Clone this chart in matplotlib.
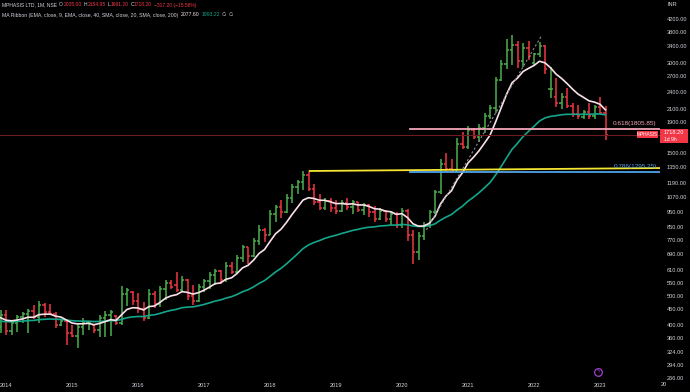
import matplotlib
matplotlib.use("Agg")
import matplotlib.pyplot as plt
import numpy as np
import pandas as pd
from matplotlib.patches import Rectangle

# ---------------- data (monthly OHLC, Dec 2013 .. Feb 2023) ----------------
dates = pd.date_range("2013-12-01", "2023-02-01", freq="MS")

opens = [392, 432, 382, 404, 424, 434, 445, 424, 466, 440, 436, 400, 412, 376, 368, 392, 405, 399, 383, 420, 432,
         428, 405, 505, 515, 480, 452, 420, 508, 470, 528, 552, 545, 522, 565, 500, 480, 535, 560, 585, 605,
         565, 630, 600, 670, 725, 680, 760, 830, 800, 940, 990, 950, 1060, 1150, 1200, 1270, 1140, 1030, 985,
         1040, 980, 960, 1020, 990, 1025, 970, 1005, 950, 905, 960, 900, 935, 860, 960, 800, 700, 790, 860,
         950, 1110, 1380, 1330, 1300, 1600, 1570, 1790, 1700, 1820, 1990, 2120, 2620, 2980, 3300, 3450, 3050,
         3350, 3000, 3200, 3420, 2450, 2300, 2200, 2300, 2150, 2020, 1980, 2060, 1995, 2130, 2035]
highs = [448, 448, 411, 431, 440, 453, 466, 480, 472, 469, 440, 418, 415, 400, 403, 422, 411, 402, 431, 445, 448,
         431, 540, 531, 519, 510, 477, 525, 519, 537, 564, 564, 598, 584, 570, 541, 549, 570, 598, 616, 610,
         650, 650, 685, 740, 730, 780, 860, 845, 969, 1007, 1047, 1090, 1180, 1222, 1305, 1290, 1180, 1090,
         1063, 1063, 1047, 1047, 1063, 1047, 1031, 1023, 1015, 1000, 985, 969, 955, 955, 985, 975, 830, 818,
         883, 969, 1131, 1426, 1504, 1426, 1676, 1755, 1840, 1812, 1868, 2038, 2165, 2686, 3055, 3607, 3713,
         3545, 3493, 3545, 3226, 3520, 3440, 2900, 2660, 2370, 2470, 2200, 2165, 2090, 2200, 2165, 2300, 2154.95]
lows = [375, 370, 370, 378, 407, 375, 418, 407, 425, 431, 390, 395, 343, 363, 334, 370, 384, 375, 365, 365, 367,
        400, 400, 462, 466, 437, 411, 418, 455, 460, 484, 525, 515, 515, 484, 466, 476, 515, 525, 541, 549,
        554, 590, 595, 650, 640, 675, 740, 755, 800, 883, 910, 945, 1021, 1090, 1131, 1115, 1007, 969, 969,
        955, 940, 955, 969, 940, 955, 933, 918, 883, 897, 883, 863, 843, 845, 760, 640, 659, 768, 843, 940,
        1090, 1295, 1285, 1300, 1541, 1541, 1664, 1636, 1747, 1943, 2038, 2600, 2860, 2947, 2880, 2900, 3068,
        2935, 3128, 2750, 2280, 2137, 2100, 2120, 1980, 1943, 1943, 1943, 1943, 2020, 1661.20]
closes = [432, 382, 404, 424, 434, 445, 424, 466, 440, 436, 400, 412, 376, 368, 392, 405, 409, 383, 420, 432, 441,
          405, 505, 522, 480, 452, 420, 508, 470, 528, 552, 535, 522, 565, 500, 480, 535, 560, 585, 605, 565,
          630, 600, 670, 725, 680, 760, 830, 800, 940, 990, 950, 1060, 1150, 1200, 1270, 1140, 1030, 985, 1040,
          980, 960, 1020, 990, 1025, 970, 1005, 950, 905, 960, 900, 935, 860, 960, 800, 700, 790, 860, 950,
          1110, 1380, 1330, 1300, 1600, 1570, 1790, 1700, 1820, 1990, 2120, 2620, 2980, 3300, 3450, 3050, 3350,
          3150, 3200, 3420, 2850, 2450, 2200, 2300, 2150, 2020, 1990, 2060, 1995, 2130, 2035, 1718.20]

ema_fast_len, ema_slow_len = 9, 40
ema_fast_seed, ema_slow_seed = 420, 410

price_ticks = [4200, 3800, 3400, 3000, 2700, 2400, 2100, 1900, 1500, 1350, 1190, 1070, 950, 850, 770, 690,
               610, 550, 500, 450, 400, 360, 324, 294, 266]
year_ticks = list(range(2014, 2024))

fib_618, fib_786 = 1805.85, 1295.25
last_close = 1718.20
trend_yellow = [(2018.60, 1305), (2023.92, 1335)]
trend_dash = [(2020.37, 830), (2022.12, 3713)]
fib_start = 2020.12

# ---------------- helpers ----------------
W, H = 690, 392
def fx(px): return px / W
def fy(py): return 1 - py / H

def mi(d):  # month index from Jan 2014
    return (d.year - 2014) * 12 + (d.month - 1)

def yr2m(y):
    return (y - 2014) * 12

def ema(vals, n, seed):
    a = 2.0 / (n + 1)
    e = seed
    out = []
    for v in vals:
        e = a * v + (1 - a) * e
        out.append(e)
    return np.array(out)

BG = "#000000"
GREEN = "#4caf50"
RED = "#f23645"
TXT = "#d1d4dc"
EMA_FAST_C = "#f9e1e8"
EMA_SLOW_C = "#13a68a"
PINK = "#f4a6b8"
BLUE = "#4fa3e8"
YELLOW = "#f5e532"
FAM = ["Liberation Sans", "DejaVu Sans"]

fig = plt.figure(figsize=(W / 100, H / 100), dpi=100, facecolor=BG)
ax = fig.add_axes([0, fy(378), fx(660), 378 / H], facecolor=BG)
ax.set_yscale("log")

xs = np.array([mi(d) for d in dates], dtype=float)
o = np.array(opens, float); h = np.array(highs, float)
l = np.array(lows, float); c = np.array(closes, float)
cols = [GREEN if cc >= oo else RED for oo, cc in zip(o, c)]

tw = 0.38
ax.vlines(xs, l, h, colors=cols, lw=1.1)
ax.hlines(o, xs - tw, xs, colors=cols, lw=1.1)
ax.hlines(c, xs, xs + tw, colors=cols, lw=1.1)

ef = ema(c, ema_fast_len, ema_fast_seed)
es = ema(c, ema_slow_len, ema_slow_seed)
ax.plot(xs, es, color=EMA_SLOW_C, lw=1.2)
ax.plot(xs, ef, color=EMA_FAST_C, lw=1.2)

xmin, xmax = -6 / 5.5, 654 / 5.5
ax.set_xlim(xmin, xmax)
ax.set_ylim(265.6, 4861)

# drawings
ax.axhline(last_close, color="#6e1c22", lw=0.8)
ax.plot([yr2m(fib_start), xmax], [fib_618, fib_618], color=PINK, lw=1.3)
ax.plot([yr2m(fib_start), xmax], [fib_786, fib_786], color=BLUE, lw=1.3)
ax.plot([yr2m(p[0]) for p in trend_yellow], [p[1] for p in trend_yellow], color=YELLOW, lw=1.3)
ax.plot([yr2m(p[0]) for p in trend_dash], [p[1] for p in trend_dash], color="#8a8d96", lw=0.8,
        ls=(0, (2, 2)))

ax.text(xmax - 0.6, fib_618 * 1.02, "0.618(1805.85)", color=PINK, fontsize=4.6, ha="right",
        va="bottom", family=FAM)
ax.text(xmax - 0.6, fib_786 * 1.02, "0.786(1295.25)", color=BLUE, fontsize=4.6, ha="right",
        va="bottom", family=FAM)

# axes styling
for s in ax.spines.values():
    s.set_visible(False)
ax.yaxis.tick_right()
ax.set_yticks(price_ticks)
ax.set_yticklabels([f"{t:.2f}" for t in price_ticks])
ax.minorticks_off()
ax.set_yticks([], minor=True)
ax.tick_params(axis="y", length=0, pad=5, labelsize=4.1, labelcolor=TXT)
ax.set_xticks([yr2m(y) for y in year_ticks])
ax.set_xticklabels([str(y) for y in year_ticks])
ax.tick_params(axis="x", length=0, pad=3.5, labelsize=4.1, labelcolor=TXT)
for t in ax.get_xticklabels() + ax.get_yticklabels():
    t.set_family(FAM)

fig.text(fx(668), fy(4), "INR", color=TXT, fontsize=4.1, va="center", ha="left", family=FAM)
fig.text(fx(661), fy(384), "20", color=TXT, fontsize=4.1, va="center", ha="left", family=FAM)

# earnings marker
ax.plot([yr2m(2022.97)], [279], marker="o", ms=5.5, mfc="none", mec="#a23ed0", mew=0.9)
ax.text(yr2m(2022.97), 279, "ϟ", color="#a23ed0", fontsize=3.5, ha="center", va="center")

# price tags
fig.patches.append(Rectangle((fx(660), fy(143)), fx(28), 14 / H, transform=fig.transFigure,
                             facecolor=RED, edgecolor="none"))
fig.text(fx(664), fy(133), "1718.20", color="white", fontsize=4.1, va="center", ha="left", family=FAM)
fig.text(fx(664), fy(139.5), "1d 9h", color="white", fontsize=3.6, va="center", ha="left", family=FAM)
fig.patches.append(Rectangle((fx(637), fy(138)), fx(21), 7 / H, transform=fig.transFigure,
                             facecolor=RED, edgecolor="none"))
fig.text(fx(647.5), fy(134.5), "MPHASIS", color="white", fontsize=3.4, va="center", ha="center", family=FAM)

# legend
renderer = fig.canvas.get_renderer()
def pieces(x0, y0, parts, size):
    x = x0
    for s, col, gap in parts:
        t = fig.text(fx(x), fy(y0), s, color=col, fontsize=size, va="center", ha="left", family=FAM)
        bb = t.get_window_extent(renderer=renderer)
        x += bb.width + gap

pieces(2, 5, [("MPHASIS LTD, 1M, NSE", TXT, 2.2), ("O", TXT, 0.2), ("2035.00", RED, 2.0), ("H", TXT, 0.2),
              ("2154.95", RED, 2.0), ("L", TXT, 0.2), ("1661.20", RED, 2.0), ("C", TXT, 0.2),
              ("1718.20", RED, 2.0), ("−317.20 (−15.58%)", RED, 0)], 3.6)
pieces(2, 15, [("MA Ribbon (EMA, close, 9, EMA, close, 40, SMA, close, 20, SMA, close, 200)", TXT, 2.2),
               ("2077.60", EMA_FAST_C, 2.2), ("1993.22", EMA_SLOW_C, 2.2), ("∅", TXT, 2.0), ("∅", TXT, 0)], 3.7)

fig.savefig("out.png", dpi=100, facecolor=BG)
